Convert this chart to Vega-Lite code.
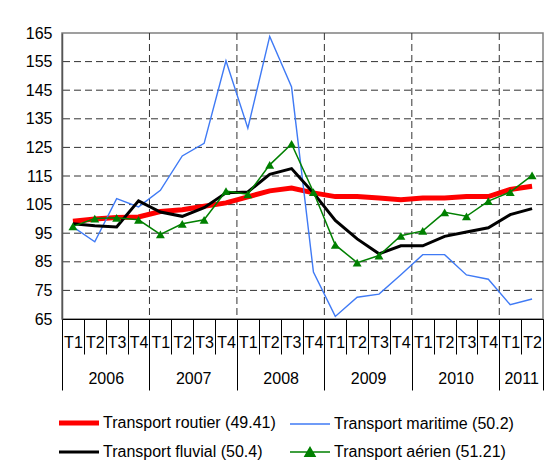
{
  "$schema": "https://vega.github.io/schema/vega-lite/v6.json",
  "width": 481,
  "height": 286,
  "autosize": {"type": "none"},
  "padding": {"left": 62, "top": 33, "right": 6, "bottom": 148},
  "background": "white",
  "config": {
    "font": "Liberation Sans",
    "view": {"stroke": "#808080", "strokeWidth": 1.5},
    "axis": {"labelFontSize": 16, "labelColor": "black", "labelFont": "Liberation Sans", "grid": false}
  },
  "datasets": {
    "series": [
      {"t": 1, "routier": 99.2, "maritime": 97.2, "fluvial": 98.3, "aerien": 97.4},
      {"t": 2, "routier": 100.0, "maritime": 92.0, "fluvial": 97.6, "aerien": 100.1},
      {"t": 3, "routier": 100.5, "maritime": 107.1, "fluvial": 97.2, "aerien": 100.4},
      {"t": 4, "routier": 100.7, "maritime": 104.2, "fluvial": 106.3, "aerien": 99.7},
      {"t": 5, "routier": 102.6, "maritime": 110.0, "fluvial": 102.4, "aerien": 94.6},
      {"t": 6, "routier": 103.2, "maritime": 122.0, "fluvial": 100.9, "aerien": 98.3},
      {"t": 7, "routier": 104.4, "maritime": 126.4, "fluvial": 103.9, "aerien": 99.7},
      {"t": 8, "routier": 105.6, "maritime": 155.3, "fluvial": 109.1, "aerien": 109.7},
      {"t": 9, "routier": 107.7, "maritime": 131.7, "fluvial": 109.4, "aerien": 108.6},
      {"t": 10, "routier": 109.8, "maritime": 163.8, "fluvial": 115.6, "aerien": 118.9},
      {"t": 11, "routier": 110.8, "maritime": 146.1, "fluvial": 117.6, "aerien": 126.2},
      {"t": 12, "routier": 109.1, "maritime": 81.4, "fluvial": 109.1, "aerien": 109.4},
      {"t": 13, "routier": 107.8, "maritime": 65.9, "fluvial": 99.5, "aerien": 90.9},
      {"t": 14, "routier": 107.8, "maritime": 72.6, "fluvial": 93.0, "aerien": 84.7},
      {"t": 15, "routier": 107.3, "maritime": 73.7, "fluvial": 87.8, "aerien": 87.2},
      {"t": 16, "routier": 106.7, "maritime": 80.5, "fluvial": 90.6, "aerien": 94.1},
      {"t": 17, "routier": 107.3, "maritime": 87.5, "fluvial": 90.6, "aerien": 95.8},
      {"t": 18, "routier": 107.3, "maritime": 87.5, "fluvial": 93.9, "aerien": 102.3},
      {"t": 19, "routier": 107.8, "maritime": 80.4, "fluvial": 95.4, "aerien": 100.9},
      {"t": 20, "routier": 107.8, "maritime": 78.9, "fluvial": 96.9, "aerien": 106.2},
      {"t": 21, "routier": 110.3, "maritime": 70.0, "fluvial": 101.5, "aerien": 109.4},
      {"t": 22, "routier": 111.4, "maritime": 72.0, "fluvial": 103.6, "aerien": 115.2}
    ],
    "hgrid": [{"g": 75}, {"g": 85}, {"g": 95}, {"g": 105}, {"g": 115}, {"g": 125}, {"g": 135}, {"g": 145}, {"g": 155}],
    "vgrid": [{"g": 4.5}, {"g": 8.5}, {"g": 12.5}, {"g": 16.5}, {"g": 20.5}]
  },
  "resolve": {"axis": {"x": "independent", "y": "independent"}},
  "layer": [
    {
      "data": {"name": "hgrid"},
      "mark": {"type": "rule", "strokeDash": [7, 4], "color": "#333333", "strokeWidth": 1},
      "encoding": {
        "y": {"field": "g", "type": "quantitative", "scale": {"domain": [65, 165], "nice": false, "zero": false}, "axis": null}
      }
    },
    {
      "data": {"name": "vgrid"},
      "mark": {"type": "rule", "strokeDash": [7, 4], "color": "#333333", "strokeWidth": 1},
      "encoding": {
        "x": {"field": "g", "type": "quantitative", "scale": {"domain": [0.5, 22.5], "nice": false, "zero": false}, "axis": null}
      }
    },
    {
      "data": {"name": "series"},
      "transform": [{"fold": ["routier", "maritime", "fluvial", "aerien"], "as": ["series", "v"]}, {"filter": "datum.series === 'routier'"}],
      "mark": {"type": "line", "strokeWidth": 5},
      "encoding": {
        "x": {"field": "t", "type": "quantitative", "scale": {"domain": [0.5, 22.5], "nice": false, "zero": false},
          "axis": {"orient": "bottom", "title": null, "values": [0.5,1.5,2.5,3.5,4.5,5.5,6.5,7.5,8.5,9.5,10.5,11.5,12.5,13.5,14.5,15.5,16.5,17.5,18.5,19.5,20.5,21.5,22.5],
            "labels": false, "ticks": true, "tickSize": 35, "tickColor": "black", "tickWidth": 1, "domain": true, "domainColor": "black", "domainWidth": 1, "grid": false, "zindex": 1}},
        "y": {"field": "v", "type": "quantitative", "scale": {"domain": [65, 165], "nice": false, "zero": false},
          "axis": {"orient": "left", "title": null, "values": [65,75,85,95,105,115,125,135,145,155,165], "ticks": false, "labelPadding": 10,
            "labelOverlap": false, "labelFlush": false, "labelBound": false, "grid": false,
            "domain": true, "domainColor": "#555555", "domainWidth": 1.5, "labelFontSize": 16, "zindex": 1}},
        "color": {"field": "series", "type": "nominal",
          "scale": {"domain": ["routier", "fluvial", "maritime", "aerien"],
                    "range": ["#ff0000", "#000000", "#3f7af5", "#008000"]},
          "legend": {"orient": "none", "legendX": -1, "legendY": 382, "columns": 2, "title": null, "padding": 0,
            "labelExpr": "datum.value === 'routier' ? 'Transport routier (49.41)' : datum.value === 'maritime' ? 'Transport maritime (50.2)' : datum.value === 'fluvial' ? 'Transport fluvial (50.4)' : 'Transport aérien (51.21)'",
            "symbolType": "M-1,0H3", "symbolSize": 400, "labelOffset": 26, "labelFontSize": 16, "labelFont": "Liberation Sans",
            "labelColor": "black", "labelLimit": 400, "rowPadding": 11, "columnPadding": 11,
            "encode": {"symbols": {"update": {
              "shape": {"signal": "datum.value === 'aerien' ? 'M-1,0H3M0.5,0.42L1,-0.45L1.5,0.42Z' : 'M-1,0H3'"},
              "strokeWidth": {"signal": "datum.value === 'routier' ? 5 : datum.value === 'fluvial' ? 3 : 1.5"},
              "fill": {"signal": "datum.value === 'aerien' ? '#008000' : 'transparent'"},
              "opacity": {"value": 1}
            }}}}}
      }
    },
    {
      "data": {"name": "series"},
      "transform": [{"fold": ["routier", "maritime", "fluvial", "aerien"], "as": ["series", "v"]}, {"filter": "datum.series === 'maritime'"}],
      "mark": {"type": "line", "strokeWidth": 1.4},
      "encoding": {
        "x": {"field": "t", "type": "quantitative",
          "axis": {"orient": "bottom", "title": null, "values": [0.5, 4.5, 8.5, 12.5, 16.5, 20.5, 22.5], "labels": false, "ticks": true, "tickSize": 71, "tickColor": "black", "tickWidth": 1, "domain": false, "grid": false, "zindex": 1}},
        "y": {"field": "v", "type": "quantitative", "axis": null},
        "color": {"field": "series", "type": "nominal"}
      }
    },
    {
      "data": {"name": "series"},
      "transform": [{"fold": ["routier", "maritime", "fluvial", "aerien"], "as": ["series", "v"]}, {"filter": "datum.series === 'fluvial'"}],
      "mark": {"type": "line", "strokeWidth": 3},
      "encoding": {
        "x": {"field": "t", "type": "quantitative",
          "axis": {"orient": "bottom", "title": null, "values": [1,2,3,4,5,6,7,8,9,10,11,12,13,14,15,16,17,18,19,20,21,22],
            "labelExpr": "'T' + ((datum.value - 1) % 4 + 1)", "ticks": false, "domain": false, "grid": false,
            "labelPadding": 23, "labelBaseline": "middle", "labelOverlap": false, "labelFlush": false, "labelBound": false, "labelFontSize": 16}},
        "y": {"field": "v", "type": "quantitative", "axis": null},
        "color": {"field": "series", "type": "nominal"}
      }
    },
    {
      "data": {"name": "series"},
      "transform": [{"fold": ["routier", "maritime", "fluvial", "aerien"], "as": ["series", "v"]}, {"filter": "datum.series === 'aerien'"}],
      "mark": {"type": "line", "strokeWidth": 1.5},
      "encoding": {
        "x": {"field": "t", "type": "quantitative",
          "axis": {"orient": "bottom", "title": null, "values": [2.5, 6.5, 10.5, 14.5, 18.5, 21.5],
            "labelExpr": "datum.value > 21 ? '2011' : '' + (2006 + floor((datum.value - 0.5) / 4))", "ticks": false, "domain": false, "grid": false,
            "labelPadding": 59, "labelBaseline": "middle", "labelOverlap": false, "labelFlush": false, "labelBound": false, "labelFontSize": 16}},
        "y": {"field": "v", "type": "quantitative", "axis": null},
        "color": {"field": "series", "type": "nominal"}
      }
    },
    {
      "data": {"name": "series"},
      "transform": [{"fold": ["routier", "maritime", "fluvial", "aerien"], "as": ["series", "v"]}, {"filter": "datum.series === 'aerien'"}],
      "mark": {"type": "point", "shape": "triangle-up", "filled": true, "size": 80, "opacity": 1, "color": "#008000"},
      "encoding": {
        "x": {"field": "t", "type": "quantitative", "axis": null},
        "y": {"field": "v", "type": "quantitative", "axis": null}
      }
    }
  ]
}
